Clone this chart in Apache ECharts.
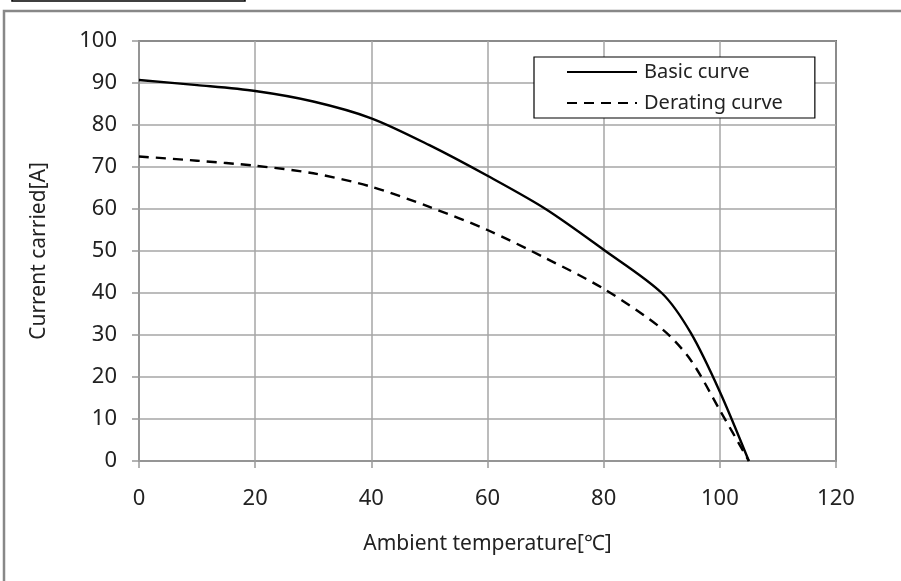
<!DOCTYPE html>
<html>
<head>
<meta charset="utf-8">
<script src="https://cdn.jsdelivr.net/npm/echarts@6/dist/echarts.min.js"></script>
<style>
html,body{margin:0;padding:0;background:#fff;}
#c{width:901px;height:581px;}
</style>
</head>
<body>
<div id="c"></div>
<script>
var temps = [0, 10, 20, 30, 40, 50, 60, 70, 80, 90, 95, 100, 105];
var basicCurve = [90.7, 89.5, 88.1, 85.6, 81.6, 75.2, 67.9, 60.0, 50.3, 40.0, 30.5, 16.5, 0];
var deratingCurve = [72.5, 71.5, 70.3, 68.5, 65.3, 60.5, 55.0, 48.3, 41.0, 31.5, 24.0, 12.1, 0];
var xTicks = [0, 20, 40, 60, 80, 100, 120];
var yTicks = [0, 10, 20, 30, 40, 50, 60, 70, 80, 90, 100];
var seriesNames = ['Basic curve', 'Derating curve'];
var xTitle = 'Ambient temperature[\u2103]';
var yTitle = 'Current carried[A]';

function pairs(xs, ys){ return xs.map(function(x,i){ return [x, ys[i]]; }); }

var FONT = 'Noto Sans';
var chart = echarts.init(document.getElementById('c'), null, {renderer:'canvas'});
chart.setOption({
  animation: false,
  backgroundColor: '#fff',
  textStyle: {fontFamily: FONT},
  graphic: [
    {type:'rect', shape:{x:4, y:11, width:910, height:590}, style:{fill:'none', stroke:'#888', lineWidth:2.5}, z:0},
    {type:'rect', shape:{x:12, y:-10, width:233, height:11}, style:{fill:'none', stroke:'#000', lineWidth:1.5}, z:0}
  ],
  grid: {left:139, right:65, top:41, bottom:120, show:true, borderColor:'#000', borderWidth:1.5, backgroundColor:'transparent'},
  legend: {
    data: seriesNames,
    orient: 'vertical',
    left: 534, top: 57,
    padding: [5, 32, 5, 32],
    itemWidth: 70, itemHeight: 14, itemGap: 11,
    borderColor: '#000', borderWidth: 1.2,
    backgroundColor: '#fff',
    itemStyle: {opacity: 0},
    textStyle: {fontFamily: FONT, fontSize: 20, color:'#222', padding:[0,0,0,2]}
  },
  xAxis: {
    type: 'value', min: 0, max: 120, interval: 20,
    name: xTitle, nameLocation: 'middle', nameGap: 73,
    nameTextStyle: {fontFamily: FONT, fontSize: 21, color:'#222'},
    axisLine: {show:true, onZero:false, lineStyle:{color:'#999', width:1.5}},
    axisTick: {show:true, inside:false, length:7, lineStyle:{color:'#999', width:1.5}},
    axisLabel: {fontFamily: FONT, fontSize: 22, color:'#222', margin: 27,
      formatter: function(v){ return xTicks.indexOf(v) >= 0 ? String(v) : ''; }},
    splitLine: {show:true, lineStyle:{color:'#a6a6a6', width:1.5}}
  },
  yAxis: {
    type: 'value', min: 0, max: 100, interval: 10,
    name: yTitle, nameLocation: 'middle', nameGap: 89, nameRotate: 90,
    nameTextStyle: {fontFamily: FONT, fontSize: 21, color:'#222'},
    axisLine: {show:true, onZero:false, lineStyle:{color:'#999', width:1.5}},
    axisTick: {show:true, inside:false, length:7, lineStyle:{color:'#999', width:1.5}},
    axisLabel: {fontFamily: FONT, fontSize: 22, color:'#222', margin: 22,
      formatter: function(v){ return yTicks.indexOf(v) >= 0 ? String(v) : ''; }},
    splitLine: {show:true, lineStyle:{color:'#a6a6a6', width:1.5}}
  },
  series: [
    {name: seriesNames[0], type:'line', data: pairs(temps, basicCurve), smooth: 0.3,
      symbol:'none', lineStyle:{color:'#000', width:2.4, type:'solid'}, itemStyle:{color:'#000'}, z:5},
    {name: seriesNames[1], type:'line', data: pairs(temps, deratingCurve), smooth: 0.3,
      symbol:'none', lineStyle:{color:'#000', width:2.4, type:[10,7]}, itemStyle:{color:'#000'}, z:5}
  ]
});
</script>
</body>
</html>
